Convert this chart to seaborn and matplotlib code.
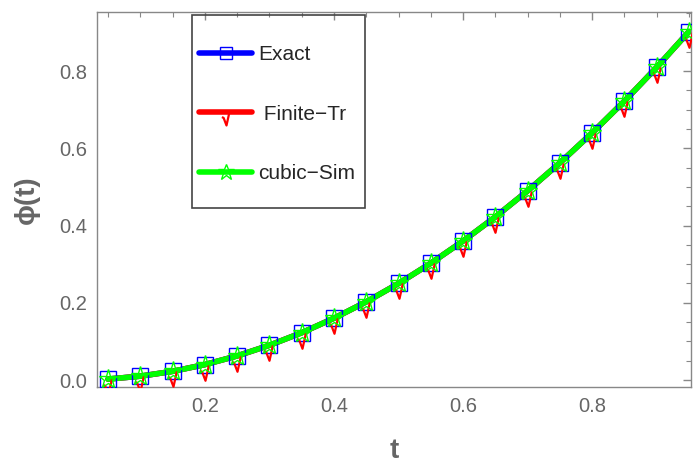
import matplotlib
matplotlib.use('Agg')
import matplotlib.pyplot as plt
import seaborn as sns
import numpy as np
from matplotlib.path import Path
from matplotlib.lines import Line2D
from matplotlib.patches import Rectangle
from matplotlib.ticker import MultipleLocator

# ── DATA ─────────────────────────────────────────────────────
t = [0.05, 0.10, 0.15, 0.20, 0.25, 0.30, 0.35, 0.40, 0.45, 0.50,
     0.55, 0.60, 0.65, 0.70, 0.75, 0.80, 0.85, 0.90, 0.95]
exact = [0.0025, 0.0100, 0.0225, 0.0400, 0.0625, 0.0900, 0.1225, 0.1600,
         0.2025, 0.2500, 0.3025, 0.3600, 0.4225, 0.4900, 0.5625, 0.6400,
         0.7225, 0.8100, 0.9025]
finite_tr = [0.0025, 0.0100, 0.0225, 0.0400, 0.0625, 0.0900, 0.1225, 0.1600,
             0.2025, 0.2500, 0.3025, 0.3600, 0.4225, 0.4900, 0.5625, 0.6400,
             0.7225, 0.8100, 0.9025]
cubic_sim = [0.0025, 0.0100, 0.0225, 0.0400, 0.0625, 0.0900, 0.1225, 0.1600,
             0.2025, 0.2500, 0.3025, 0.3600, 0.4225, 0.4900, 0.5625, 0.6400,
             0.7225, 0.8100, 0.9025]
labels = ['Exact', ' Finite\u2212Tr', 'cubic\u2212Sim']

# ── STYLE ────────────────────────────────────────────────────
sns.set_style('white')
plt.rcParams['font.family'] = ['Liberation Sans', 'DejaVu Sans']
gray = '#666666'

# check-mark (surd) marker hanging below the point
surd = Path([(-0.35, -0.35), (-0.22, -0.42), (0.0, -1.0), (0.22, 0.0)],
            [Path.MOVETO, Path.LINETO, Path.LINETO, Path.LINETO])

series = [
    (exact, 'blue', 's', 11, 1.0),
    (finite_tr, 'red', surd, 22, 1.6),
    (cubic_sim, '#00ff00', '*', 14, 1.0),
]

fig, ax = plt.subplots(figsize=(6.95, 4.66), dpi=100)
fig.subplots_adjust(left=97/695, right=691/695, bottom=1-387/466, top=1-12/466)

# lines first
for vals, col, mk, ms, mew in series:
    sns.lineplot(x=t, y=vals, ax=ax, color=col, lw=4, zorder=2, legend=False)
# markers on top
for vals, col, mk, ms, mew in series:
    sns.lineplot(x=t, y=vals, ax=ax, color=col, linestyle='none', marker=mk,
                 markersize=ms, markerfacecolor='none', markeredgecolor=col,
                 markeredgewidth=mew, zorder=3, legend=False)

ax.set_xlim(0.033, 0.953)
ax.set_ylim(-0.018, 0.953)
ax.xaxis.set_major_locator(MultipleLocator(0.2))
ax.xaxis.set_minor_locator(MultipleLocator(0.05))
ax.yaxis.set_major_locator(MultipleLocator(0.2))
ax.yaxis.set_minor_locator(MultipleLocator(0.05))
ax.tick_params(which='both', direction='in', top=True, right=True,
               color='#888888', labelcolor=gray, labelsize=14.5, pad=7)
ax.tick_params(which='major', length=6, width=1)
ax.tick_params(which='minor', length=3.5, width=0.8)
for s in ax.spines.values():
    s.set_color('#888888')
    s.set_linewidth(1)

ax.set_xlabel('t', fontsize=20, fontweight='bold', color=gray, labelpad=16)
ax.set_ylabel('\u03d5(t)', fontsize=20, fontweight='bold', color=gray, labelpad=14)

# legend: entries without frame, box drawn separately
handles = [Line2D([], [], color=col, lw=4, marker=mk, markersize=ms * 0.85,
                  markerfacecolor='none', markeredgecolor=col, markeredgewidth=mew)
           for vals, col, mk, ms, mew in series]
leg = ax.legend(handles, labels, loc='center left',
                bbox_to_anchor=(199/695, 1-114/466), bbox_transform=fig.transFigure,
                fontsize=15, handlelength=2.55, labelspacing=1.95, borderpad=0,
                borderaxespad=0, handletextpad=0.3, frameon=False)
fig.patches.append(Rectangle((192/695, 1-208/466), 173/695, 193/466,
                             transform=fig.transFigure, fill=False,
                             edgecolor='#444444', lw=1.2, zorder=5))

plt.savefig('out.png', dpi=100)
plt.close()
